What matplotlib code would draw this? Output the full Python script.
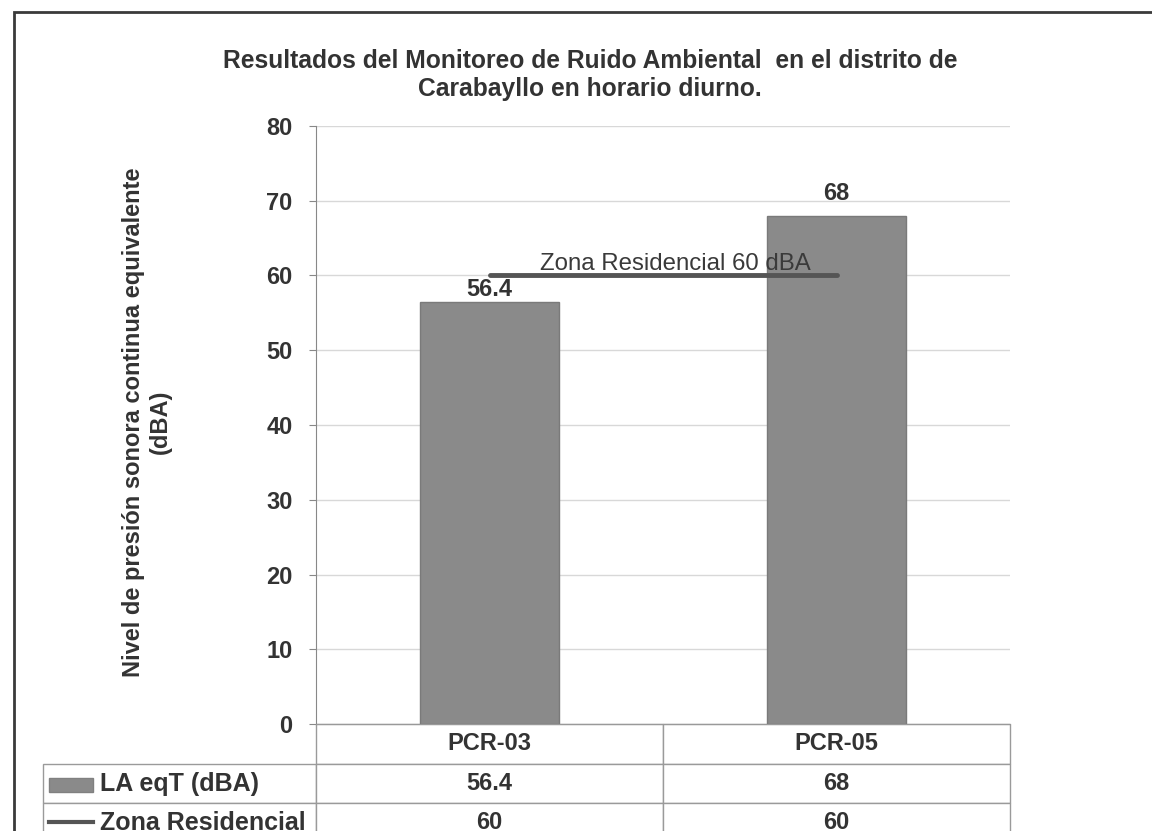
import matplotlib
matplotlib.use('Agg')
import matplotlib.pyplot as plt
from matplotlib.patches import Rectangle
from matplotlib.lines import Line2D

# datos
puntos = ['PCR-03', 'PCR-05']
laeqt = [56.4, 68]
zona_residencial = [60, 60]
series = ['LA eqT (dBA)', 'Zona Residencial']
etiqueta_limite = 'Zona Residencial 60 dBA'
titulo = 'Resultados del Monitoreo de Ruido Ambiental  en el distrito de\nCarabayllo en horario diurno.'
ylabel = 'Nivel de presión sonora continua equivalente\n(dBA)'

plt.rcParams['font.family'] = ['Liberation Sans', 'DejaVu Sans']
texto = '#333333'

fig = plt.figure(figsize=(11.52, 8.31), dpi=100)
ax = fig.add_axes([316 / 1152, 1 - 724 / 831, 694 / 1152, 598 / 831])

# marco exterior
fig.patches.append(Rectangle((14 / 1152, -0.05), 1.2, 1 - 12 / 831 + 0.05,
                             transform=fig.transFigure, fill=False,
                             edgecolor='#3a3a3a', lw=2))

x = list(range(len(puntos)))
ax.bar(x, laeqt, width=0.40, color='#8a8a8a', edgecolor='#7a7a7a', zorder=2)
ax.plot(x, zona_residencial, color='#555555', lw=3.5, solid_capstyle='round', zorder=3)
ax.text(0.535, zona_residencial[0] + 0.1, etiqueta_limite, ha='center', va='bottom',
        fontsize=17.3, color='#3a3a3a', zorder=4)

offsets = [1, 8]
for xi, v, off in zip(x, laeqt, offsets):
    ax.annotate(f'{v:g}', (xi, v), xytext=(0, off), textcoords='offset points',
                ha='center', va='bottom', fontsize=17, fontweight='bold', color=texto)

ax.set_xlim(-0.5, len(puntos) - 0.5)
ax.set_ylim(0, 80)
ax.set_yticks(range(0, 81, 10))
ax.set_xticks([])
ax.yaxis.grid(True, color='#d8d8d8', lw=1)
ax.set_axisbelow(True)
for s in ['top', 'right']:
    ax.spines[s].set_visible(False)
ax.spines['left'].set_color('#888888')
ax.spines['bottom'].set_color('#999999')
ax.tick_params(axis='y', length=5, color='#888888', pad=12, labelsize=17, labelcolor=texto)
for lab in ax.get_yticklabels():
    lab.set_fontweight('bold')

ax.set_ylabel(ylabel, fontsize=17, fontweight='bold', color=texto, linespacing=1.2)
ax.yaxis.set_label_coords(-0.208, 0.505)

fig.text(590 / 1152, 1 - 49 / 831, titulo, ha='center', va='top', fontsize=17.7,
         fontweight='bold', color=texto, linespacing=1.22)

# tabla de datos bajo el eje (unidades de ejes: ancho 694 px, alto 598 px)
valores = [[f'{v:g}' for v in laeqt], [f'{v:g}' for v in zona_residencial]]
tabla = ax.table(cellText=valores, colLabels=puntos, cellLoc='center',
                 colWidths=[0.5, 0.5], bbox=[0, -118 / 598, 1, 118 / 598])
for i, nombre in enumerate(series):
    celda = tabla.add_cell(i + 1, -1, 273 / 694, 39 / 598, text=nombre, loc='left')
    celda.PAD = 57 / 273
tabla.auto_set_font_size(False)
for (r, c), cell in tabla.get_celld().items():
    cell.set_height((40 if r == 0 else 39) / 598)
    cell.set_edgecolor('#9a9a9a')
    cell.set_linewidth(1)
    t = cell.get_text()
    t.set_fontsize(17)
    t.set_fontweight('bold')
    t.set_color(texto)
    if c == -1:
        t.set_fontsize(18)

# simbolos de leyenda en la tabla
fig.patches.append(Rectangle((49 / 1152, 1 - 792 / 831), 44 / 1152, 14 / 831,
                             transform=fig.transFigure, facecolor='#8a8a8a',
                             edgecolor='#808080'))
fig.lines.append(Line2D([49 / 1152, 93 / 1152], [1 - 822 / 831, 1 - 822 / 831],
                        transform=fig.transFigure, color='#555555', lw=3))

fig.savefig('out.png', dpi=100)
